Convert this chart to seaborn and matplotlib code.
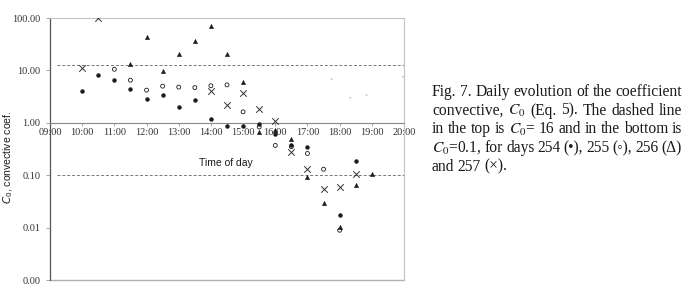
import pandas as pd
import matplotlib
matplotlib.use("Agg")
import matplotlib.pyplot as plt
import seaborn as sns

# --- Data (time of day, C0 value) ---
DAY254_TIME = ["10:00", "10:30", "11:00", "11:30", "12:00", "12:30", "13:00", "13:30",
               "14:00", "14:30", "15:00", "15:30", "16:00", "16:30", "17:00", "18:00", "18:30"]
DAY254_C0 = [4.07, 8.3, 6.7, 4.5, 2.86, 3.37, 2.0, 2.78,
             1.19, 0.86, 0.88, 0.95, 0.60, 0.38, 0.34, 0.0174, 0.19]

DAY255_TIME = ["11:00", "11:30", "12:00", "12:30", "13:00", "13:30", "14:00", "14:30",
               "15:00", "15:30", "16:00", "16:30", "17:00", "17:30", "18:00"]
DAY255_C0 = [10.5, 6.5, 4.2, 5.0, 4.8, 4.7, 5.1, 5.3,
             1.62, 0.83, 0.37, 0.35, 0.26, 0.13, 0.0089]

DAY256_TIME = ["11:30", "12:00", "12:30", "13:00", "13:30", "14:00", "14:30", "15:00",
               "15:30", "16:00", "16:30", "17:00", "17:30", "18:00", "18:30", "19:00"]
DAY256_C0 = [13.5, 44.0, 9.9, 21.0, 36.0, 70.0, 20.5, 6.1,
             0.66, 0.72, 0.49, 0.093, 0.029, 0.0103, 0.066, 0.107]

DAY257_TIME = ["10:00", "10:30", "14:00", "14:30", "15:00", "15:30", "16:00", "16:30",
               "17:00", "17:30", "18:00", "18:30"]
DAY257_C0 = [11.3, 98.0, 4.0, 2.17, 3.7, 1.85, 1.1, 0.28,
             0.13, 0.055, 0.059, 0.107]

# faint stray marks in the upper right of the scan
STRAY_TIME = ["17:45", "18:20", "18:50", "19:58"]
STRAY_C0 = [6.8, 3.0, 3.4, 7.6]

C0_TOP = 12.5      # upper dashed reference line (as drawn)
C0_BOTTOM = 0.1    # lower dashed reference line

Y_TICKS = [0.001, 0.01, 0.1, 1, 10, 100]
Y_LABELS = ["0.00", "0.01", "0.10", "1.00", "10.00", "100.00"]
X_HOURS = list(range(9, 21))
X_LABELS = [f"{h:02d}:00" for h in X_HOURS]

CAPTION = [
    "Fig. 7. Daily evolution of the coefficient",
    "convective, $C_0$ (Eq. 5). The dashed line",
    "in the top is $C_0$= 16 and in the bottom is",
    "$C_0$=0.1, for days 254 (\u2022), 255 (\u25e6), 256 (\u0394)",
    "and 257 (\u00d7).",
]

W, H = 688, 301
SERIF = ["Liberation Serif", "DejaVu Serif", "DejaVu Sans"]
SANS = ["Liberation Sans", "DejaVu Sans"]
INK = "#1a1a1a"


def to_hours(times):
    return [int(t[:2]) + int(t[3:]) / 60 for t in times]


def frame(times, values):
    return pd.DataFrame({"hour": to_hours(times), "c0": values})


def draw_caption(fig, lines, x0, x1, y_base, step, size):
    """Justified caption lines placed word by word (last line left aligned)."""
    fig.canvas.draw()
    r = fig.canvas.get_renderer()
    for i, line in enumerate(lines):
        words = line.split(" ")
        texts = [fig.text(0, 0, w, fontsize=size, family=SERIF, color=INK, va="baseline")
                 for w in words]
        widths = [t.get_window_extent(r).width for t in texts]
        if i < len(lines) - 1 and len(words) > 1:
            gap = (x1 - x0 - sum(widths)) / (len(words) - 1)
        else:
            gap = size * 0.3
        x = x0
        y = 1 - (y_base + i * step) / H
        for t, w in zip(texts, widths):
            t.set_position((x / W, y))
            x += w + gap


def main():
    plt.rcParams["mathtext.fontset"] = "stix"
    sns.set_style("white")
    plt.rcParams["font.family"] = SERIF

    fig = plt.figure(figsize=(W / 100, H / 100), dpi=100)
    ax = fig.add_axes([50 / W, 1 - 280 / H, 354 / W, 262 / H])

    d254 = frame(DAY254_TIME, DAY254_C0)
    d255 = frame(DAY255_TIME, DAY255_C0)
    d256 = frame(DAY256_TIME, DAY256_C0)
    d257 = frame(DAY257_TIME, DAY257_C0)
    stray = frame(STRAY_TIME, STRAY_C0)

    sns.scatterplot(data=stray, x="hour", y="c0", marker="o", s=2, color="#c8c8c8",
                    edgecolor="none", ax=ax, zorder=2)
    sns.scatterplot(data=d254, x="hour", y="c0", marker="o", s=8, color=INK,
                    edgecolor=INK, linewidth=0.3, ax=ax, zorder=3)
    sns.scatterplot(data=d255, x="hour", y="c0", marker="o", s=8, facecolor="none",
                    edgecolor=INK, linewidth=0.6, ax=ax, zorder=3)
    sns.scatterplot(data=d256, x="hour", y="c0", marker="^", s=10, color=INK,
                    edgecolor=INK, linewidth=0.3, ax=ax, zorder=3)
    sns.scatterplot(data=d257, x="hour", y="c0", marker="x", s=22, color="#333333",
                    linewidth=0.7, ax=ax, zorder=3)

    ax.set_yscale("log")
    ax.set_xlim(9, 20)
    ax.set_ylim(0.001, 100)

    # dashed reference lines
    for level in (C0_TOP, C0_BOTTOM):
        ax.axhline(level, xmin=0.02, xmax=1, color="#777777", lw=0.7,
                   ls=(0, (3, 2)), zorder=1)

    # Excel-like frame: x axis crosses at 1.00
    ax.spines["bottom"].set_position(("data", 1))
    ax.spines["bottom"].set_color("#888888")
    ax.spines["bottom"].set_linewidth(0.8)
    ax.spines["left"].set_color("#555555")
    ax.spines["left"].set_linewidth(0.9)
    for side in ("top", "right"):
        ax.spines[side].set_visible(True)
        ax.spines[side].set_color("#c4c4c4")
        ax.spines[side].set_linewidth(0.8)
    ax.axhline(0.001, color="#b0b0b0", lw=1.0, clip_on=False, zorder=1)

    ax.set_yticks(Y_TICKS, Y_LABELS)
    ax.yaxis.set_minor_locator(matplotlib.ticker.NullLocator())
    ax.set_xticks(X_HOURS, X_LABELS)
    ax.tick_params(axis="y", which="major", length=3, width=0.6, color="#999999",
                   pad=4, labelsize=7.5, labelcolor="#333333", left=True)
    ax.tick_params(axis="x", which="major", length=2, width=0.6, color="#999999",
                   pad=1.5, labelsize=7.5, labelcolor="#333333", bottom=True,
                   direction="out")
    for lab in ax.get_xticklabels() + ax.get_yticklabels():
        lab.set_family(SERIF)

    ax.set_xlabel("")
    ax.set_ylabel("")
    ax.text(226 / W, 1 - 163 / H, "Time of day", transform=fig.transFigure,
            ha="center", va="center", fontsize=7.5, family=SANS, color=INK)
    fig.text(8 / W, 1 - 157 / H, "$C_0$, convective coef.", rotation=90,
             ha="center", va="center", fontsize=7.5, family=SANS, color=INK,
             math_fontfamily="dejavusans")

    draw_caption(fig, CAPTION, 432, 682, 96, 18.7, 11.2)

    fig.savefig("out.png", dpi=100)
    plt.close(fig)


if __name__ == "__main__":
    main()
